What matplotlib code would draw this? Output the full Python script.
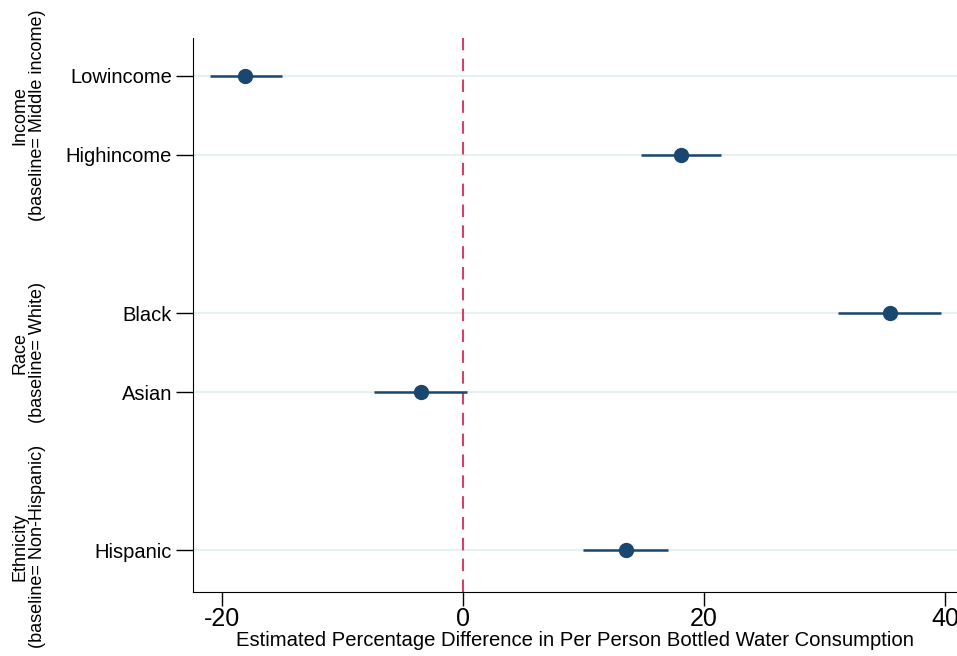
import numpy as np
import matplotlib
matplotlib.use("Agg")
import matplotlib.pyplot as plt

plt.rcParams['font.family'] = ['Liberation Sans', 'DejaVu Sans']
plt.rcParams['axes.unicode_minus'] = False

# coefficient estimates and 95% CI
labels = ["Lowincome", "Highincome", "Black", "Asian", "Hispanic"]
positions = [1, 2, 4, 5, 7]
coef = [-18.1, 18.1, 35.4, -3.5, 13.5]
ci_low = [-21.0, 14.8, 31.1, -7.4, 10.0]
ci_high = [-15.0, 21.4, 39.7, 0.3, 17.0]

groups = ["Income\n(baseline= Middle income)", "Race\n(baseline= White)",
          "Ethnicity\n(baseline= Non-Hispanic)"]
group_pos = [1.5, 4.5, 6.96]

navy = "#1a476f"

fig = plt.figure(figsize=(9.57, 6.56), dpi=100)
ax = fig.add_axes([0.2017, 0.0976, 0.7983, 0.8445])

for p in positions:
    ax.axhline(p, color="#e6eff2", lw=1.5, zorder=0)

ax.axvline(0, color="#d2416a", lw=1.5, dashes=(6, 4), zorder=1)

ax.hlines(positions, ci_low, ci_high, color=navy, lw=1.8, zorder=2)
ax.plot(coef, positions, "o", color=navy, ms=10, zorder=3)

ax.set_xlim(-22.4, 41.0)
ax.set_ylim(7.53, 0.52)
ax.set_yticks(positions)
ax.set_yticklabels(labels, fontsize=14.5)
ax.set_xticks([-20, 0, 20, 40])
ax.tick_params(axis="x", labelsize=18, length=10, width=1, pad=1)
ax.tick_params(axis="y", length=12, width=1, pad=3)
ax.set_xlabel("Estimated Percentage Difference in Per Person Bottled Water Consumption",
              fontsize=14.6, labelpad=0)

ax.spines["top"].set_visible(False)
ax.spines["right"].set_visible(False)

for g, gp in zip(groups, group_pos):
    ax.text(-0.215, gp, g, transform=ax.get_yaxis_transform(), rotation=90,
            ha="center", va="center", multialignment="center", fontsize=13,
            linespacing=1.05)

fig.savefig("out.png", dpi=100)
